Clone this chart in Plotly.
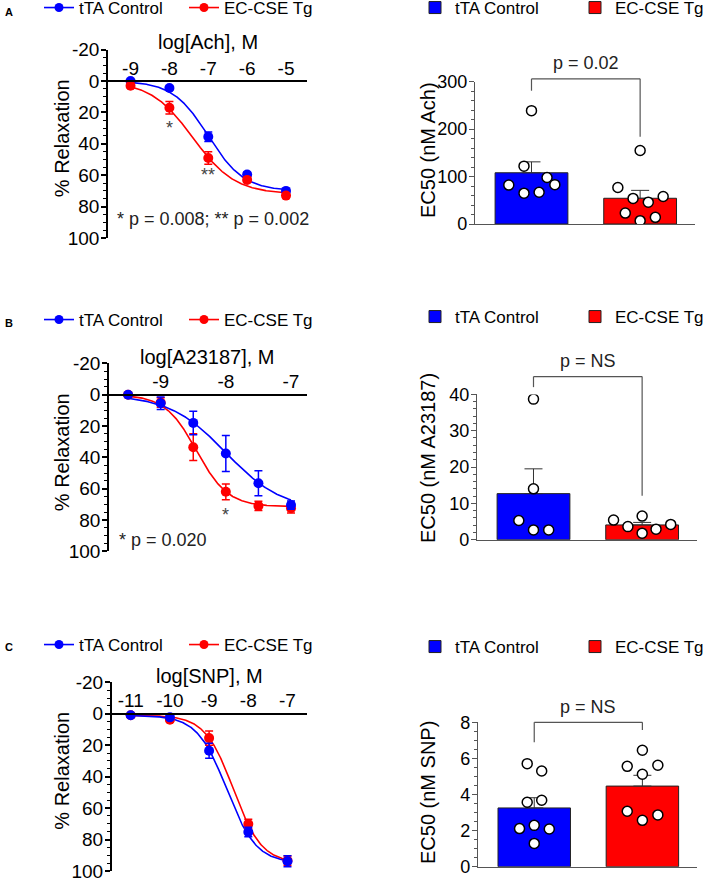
import numpy as np
import plotly.graph_objects as go

W, H = 709, 882
BLUE = "#0000FF"
RED = "#FF0000"
FONT = "Arial, 'Liberation Sans', Helvetica, sans-serif"
GREY = "#555555"

# ---------------- Concentration-response data (mean % relaxation, SEM) ----------------
ach_logM = [-9, -8, -7, -6, -5]
ach_ctrl = [0, 4.5, 35.5, 59.5, 70]
ach_ctrl_sem = [0.5, 1.2, 3, 1.5, 1.5]
ach_cse = [3, 17, 49, 63, 73]
ach_cse_sem = [1.5, 4, 4, 1.5, 1.5]
ach_fit_ctrl = [0, 70, -7.0, 0.95]     # top, bottom, logEC50, Hill slope
ach_fit_cse = [0, 72, -7.4, 0.8]

a23_logM = [-9.5, -9, -8.5, -8, -7.5, -7]
a23_ctrl = [0, 5.5, 18, 37.5, 56.5, 70.5]
a23_ctrl_sem = [0.5, 4, 7.5, 11.5, 8, 2.7]
a23_cse = [0, 5, 33.5, 62, 71, 72.5]
a23_cse_sem = [0.5, 3, 8.5, 5, 3, 3]
a23_fit_ctrl = [0, 74, -8.0, 1.0]
a23_fit_cse = [0, 71.5, -8.45, 1.8]

snp_logM = [-11, -10, -9, -8, -7]
snp_ctrl = [1, 2.3, 23.5, 75.2, 93.8]
snp_ctrl_sem = [1, 1, 4.8, 3, 3.5]
snp_cse = [1, 3.8, 15.5, 70.1, 93.4]
snp_cse_sem = [1, 1.5, 4.5, 3, 3]
snp_fit_ctrl = [1, 95, -8.55, 1.15]
snp_fit_cse = [1, 95, -8.38, 1.2]

# ---------------- EC50 individual values (nM) ----------------
ec50_ach_ctrl = [239, 122, 82, 65, 67, 98, 83]
ec50_ach_cse = [155, 77, 54, 46, 58, 23, 7, 14]
ec50_a23_ctrl = [38.7, 14.0, 5.3, 2.7, 2.7]
ec50_a23_cse = [5.4, 3.6, 6.5, 1.8, 2.9, 4.2]
ec50_snp_ctrl = [5.71, 5.3, 3.57, 3.68, 2.11, 2.29, 2.09, 1.29]
ec50_snp_cse = [6.45, 5.56, 5.62, 5.12, 3.07, 2.57, 2.87]

# horizontal scatter offsets of the dots within each bar (category units)
jit_ach_ctrl = [0, -0.069, -0.209, -0.069, 0.07, 0.143, 0.215]
jit_ach_cse = [0, -0.205, -0.065, 0.075, 0.212, -0.137, 0, 0.14]
jit_a23_ctrl = [0, 0, -0.135, 0, 0.14]
jit_a23_cse = [-0.263, -0.131, 0, 0, 0.128, 0.263]
jit_snp_ctrl = [-0.065, 0.069, -0.065, 0.069, -0.136, 0, 0.139, 0]
jit_snp_cse = [0, -0.14, 0.143, 0, -0.14, 0, 0.143]

groups = ["tTA Control", "EC-CSE Tg"]
y_ticks_resp = [-20, 0, 20, 40, 60, 80, 100]

rows = [
    dict(letter="A", xlabel="log[Ach], M", logM=ach_logM, xticks=[-9, -8, -7, -6, -5],
         ctrl=ach_ctrl, ctrl_sem=ach_ctrl_sem, cse=ach_cse, cse_sem=ach_cse_sem,
         fit_ctrl=ach_fit_ctrl, fit_cse=ach_fit_cse,
         ec_ctrl=ec50_ach_ctrl, ec_cse=ec50_ach_cse, jit_ctrl=jit_ach_ctrl, jit_cse=jit_ach_cse,
         ec_title="EC50 (nM Ach)", ec_max=300, ec_dtick=100, ec_minor=20, ptext="p = 0.02",
         bracket=[281, 306, 184], ptext_y=340,
         # geometry (pixels)
         lx=(108, 307), lxr=(-9.58, -4.46), ly=(49.6, 238), bx=(475, 695), by=(224, 81.7),
         leg_y=8, bleg_y=8, letter_y=12, blue_first=True,
         xtitle_y=41.7, ytitle_y=138.5, btitle_y=150),
    dict(letter="B", xlabel="log[A23187], M", logM=a23_logM, xticks=[-9, -8, -7],
         ctrl=a23_ctrl, ctrl_sem=a23_ctrl_sem, cse=a23_cse, cse_sem=a23_cse_sem,
         fit_ctrl=a23_fit_ctrl, fit_cse=a23_fit_cse,
         ec_ctrl=ec50_a23_ctrl, ec_cse=ec50_a23_cse, jit_ctrl=jit_a23_ctrl, jit_cse=jit_a23_cse,
         ec_title="EC50 (nM A23187)", ec_max=40, ec_dtick=10, ec_minor=2, ptext="p = NS",
         bracket=[42, 44.9, 12.1], ptext_y=49.3,
         lx=(109, 306.7), lxr=(-9.793, -6.759), ly=(363.4, 551.3), bx=(477, 697), by=(539.7, 394.4),
         leg_y=320, bleg_y=317, letter_y=323, blue_first=False,
         xtitle_y=356.7, ytitle_y=452.5, btitle_y=458),
    dict(letter="C", xlabel="log[SNP], M", logM=snp_logM, xticks=[-11, -10, -9, -8, -7],
         ctrl=snp_ctrl, ctrl_sem=snp_ctrl_sem, cse=snp_cse, cse_sem=snp_cse_sem,
         fit_ctrl=snp_fit_ctrl, fit_cse=snp_fit_cse,
         ec_ctrl=ec50_snp_ctrl, ec_cse=ec50_snp_cse, jit_ctrl=jit_snp_ctrl, jit_cse=jit_snp_cse,
         ec_title="EC50 (nM SNP)", ec_max=8, ec_dtick=2, ec_minor=0.5, ptext="p = NS",
         bracket=[6.9, 8.0, 7.58], ptext_y=8.87,
         lx=(111.7, 306.7), lxr=(-11.485, -6.51), ly=(682.3, 871), bx=(478, 697), by=(866.7, 722.3),
         leg_y=645, bleg_y=647, letter_y=647, blue_first=False,
         xtitle_y=676, ytitle_y=771, btitle_y=792),
]

stars = {
    "A": [(-8, 30, "*"), (-7, 60, "**")],
    "B": [(-8, 77, "*")],
    "C": [],
}
pnotes = {
    "A": (0.035, 88, "* p = 0.008; ** p = 0.002"),
    "B": (0.04, 92.8, "* p = 0.020"),
}

BAR_XR = (-0.52, 1.505)
BAR_W = 0.67
LEFT_YTITLE_X = 61.7
BAR_YTITLE_X = 428


def hill(p, x):
    top, bottom, logec, h = p
    return top + (bottom - top) / (1 + 10 ** (h * (logec - x)))


def px_x(p):
    return p / W


def px_y(p):
    return 1 - p / H


fig = go.Figure()
layout = dict(
    width=W, height=H, margin=dict(l=0, r=0, t=0, b=0, autoexpand=False),
    paper_bgcolor="white", plot_bgcolor="white",
    font=dict(family=FONT, size=18, color="black"),
    showlegend=True,
)
annotations = []
shapes = []

for r, row in enumerate(rows):
    li = 2 * r + 1
    bi = 2 * r + 2
    lxa, lya = ("x" if li == 1 else f"x{li}"), ("y" if li == 1 else f"y{li}")
    bxa, bya = f"x{bi}", f"y{bi}"
    lleg = "legend" if r == 0 else f"legend{2 * r + 1}"
    bleg = f"legend{2 * r + 2}"

    # ---- left: concentration-response ----
    xs = np.linspace(row["logM"][0], row["logM"][-1], 300)
    series = [
        (groups[0], BLUE, row["ctrl"], row["ctrl_sem"], row["fit_ctrl"]),
        (groups[1], RED, row["cse"], row["cse_sem"], row["fit_cse"]),
    ]
    if not row["blue_first"]:
        series = series[::-1]
    for name, col, vals, sem, fitp in series:
        fig.add_trace(go.Scatter(x=xs, y=hill(fitp, xs), mode="lines",
                                 line=dict(color=col, width=1.6), showlegend=False,
                                 hoverinfo="skip", xaxis=lxa, yaxis=lya))
    for name, col, vals, sem, fitp in series:
        fig.add_trace(go.Scatter(x=row["logM"], y=vals, mode="markers", name=name,
                                 marker=dict(color=col, size=10),
                                 error_y=dict(type="data", array=sem, color=col, thickness=1.5, width=4),
                                 showlegend=False, xaxis=lxa, yaxis=lya))
    # legend entries
    for name, col in [(groups[0], BLUE), (groups[1], RED)]:
        fig.add_trace(go.Scatter(x=[None], y=[None], mode="lines+markers", name=name,
                                 line=dict(color=col, width=1.6), marker=dict(color=col, size=9),
                                 legend=lleg, xaxis=lxa, yaxis=lya))

    ydom = [px_y(row["ly"][1]), px_y(row["ly"][0])]
    zero_pos = ydom[0] + (100 - 0) / 120 * (ydom[1] - ydom[0])
    layout["xaxis" if li == 1 else f"xaxis{li}"] = dict(
        domain=[px_x(row["lx"][0]), px_x(row["lx"][1])], range=list(row["lxr"]),
        anchor="free", position=zero_pos, side="top",
        showline=True, linecolor="black", linewidth=1.5, ticks="",
        tickmode="array", tickvals=row["xticks"], ticktext=[str(v) for v in row["xticks"]],
        tickfont=dict(size=19), showgrid=False, zeroline=False, ticklabelstandoff=-2,
    )
    layout["yaxis" if li == 1 else f"yaxis{li}"] = dict(
        domain=ydom, range=[100, -20], anchor=lxa,
        showline=True, linecolor="black", linewidth=1.5,
        ticks="outside", ticklen=5, tickwidth=1.5, tickcolor="black",
        tickmode="array", tickvals=y_ticks_resp, ticktext=[str(v) for v in y_ticks_resp],
        minor=dict(tickmode="linear", tick0=0, dtick=5, ticks="outside", ticklen=3,
                   tickwidth=1.2, tickcolor="black"),
        tickfont=dict(size=19), showgrid=False, zeroline=False,
        ticklabeloverflow="allow", ticklabelstandoff=-2,
    )
    layout[lleg] = dict(orientation="h", x=px_x(39), y=px_y(row["leg_y"]),
                        xanchor="left", yanchor="middle", bgcolor="rgba(0,0,0,0)",
                        font=dict(size=17), itemwidth=30, entrywidthmode="pixels", entrywidth=100)

    # axis titles
    annotations.append(dict(x=0.5, y=px_y(row["xtitle_y"]), xref=f"{lxa} domain", yref="paper",
                            text=row["xlabel"], showarrow=False, xanchor="center", yanchor="middle",
                            font=dict(size=20, color="black")))
    annotations.append(dict(x=px_x(LEFT_YTITLE_X), y=px_y(row["ytitle_y"]), xref="paper", yref="paper",
                            text="% Relaxation", textangle=-90, showarrow=False,
                            xanchor="center", yanchor="middle", font=dict(size=20, color="black")))

    for (sx, sy, st) in stars[row["letter"]]:
        annotations.append(dict(x=sx, y=sy, xref=lxa, yref=lya, text=st, showarrow=False,
                                font=dict(size=18, color="#444444")))
    if row["letter"] in pnotes:
        nx, ny, nt = pnotes[row["letter"]]
        annotations.append(dict(x=nx, y=ny, xref=f"{lxa} domain", yref=lya, text=nt,
                                showarrow=False, xanchor="left", yanchor="middle",
                                font=dict(size=18, color="#222222")))
    annotations.append(dict(x=px_x(3), y=px_y(row["letter_y"]), xref="paper", yref="paper",
                            text=f"<b>{row['letter']}</b>", showarrow=False, xanchor="left",
                            yanchor="middle", font=dict(size=11, color="black")))

    # ---- right: EC50 bars ----
    ec_sets = [(groups[0], BLUE, row["ec_ctrl"], row["jit_ctrl"]),
               (groups[1], RED, row["ec_cse"], row["jit_cse"])]
    for i, (name, col, vals, jit) in enumerate(ec_sets):
        v = np.array(vals, dtype=float)
        mean = v.mean()
        sem = v.std(ddof=1) / np.sqrt(len(v))
        fig.add_trace(go.Bar(x=[i], y=[mean], width=BAR_W, name=name,
                             marker=dict(color=col, line=dict(color="#222222", width=1)),
                             error_y=dict(type="data", array=[sem], arrayminus=[0], color="#333333",
                                          thickness=1, width=9),
                             legend=bleg, xaxis=bxa, yaxis=bya))
    for i, (name, col, vals, jit) in enumerate(ec_sets):
        fig.add_trace(go.Scatter(x=[i + j for j in jit], y=vals, mode="markers", name=name,
                                 marker=dict(color="white", size=10, line=dict(color="black", width=1.5)),
                                 showlegend=False, xaxis=bxa, yaxis=bya))

    bydom = [px_y(row["by"][0]), px_y(row["by"][1])]
    layout[f"xaxis{bi}"] = dict(domain=[px_x(row["bx"][0]), px_x(row["bx"][1])], range=list(BAR_XR),
                                anchor=bya, showline=True, linecolor=GREY, linewidth=1.2,
                                ticks="", showticklabels=False, showgrid=False, zeroline=False)
    yt = list(np.arange(0, row["ec_max"] + 1e-9, row["ec_dtick"]))
    layout[f"yaxis{bi}"] = dict(
        domain=bydom, range=[0, row["ec_max"]], anchor=bxa,
        showline=True, linecolor=GREY, linewidth=1.2,
        ticks="outside", ticklen=5, tickwidth=1.2, tickcolor=GREY,
        tickmode="array", tickvals=yt, ticktext=[f"{t:g}" for t in yt],
        minor=dict(tickmode="linear", tick0=0, dtick=row["ec_minor"], ticks="outside", ticklen=3,
                   tickwidth=1, tickcolor=GREY),
        tickfont=dict(size=18), showgrid=False, zeroline=False,
        ticklabeloverflow="allow", ticklabelstandoff=-2,
    )
    annotations.append(dict(x=px_x(BAR_YTITLE_X), y=px_y(row["btitle_y"]), xref="paper", yref="paper",
                            text=row["ec_title"], textangle=-90, showarrow=False,
                            xanchor="center", yanchor="middle", font=dict(size=20, color="black")))
    layout[bleg] = dict(orientation="h", x=px_x(415), y=px_y(row["bleg_y"]),
                        xanchor="left", yanchor="middle", bgcolor="rgba(0,0,0,0)",
                        font=dict(size=17), itemwidth=30, entrywidthmode="pixels", entrywidth=115)

    # significance bracket (drawn in axis-domain units so it may sit above the axis top)
    yl, yh, yr = row["bracket"]
    m = row["ec_max"]
    c0 = (0 - BAR_XR[0]) / (BAR_XR[1] - BAR_XR[0])
    c1 = (1 - BAR_XR[0]) / (BAR_XR[1] - BAR_XR[0])
    for (xa, ya, xb, yb) in [(c0, yl, c0, yh), (c0, yh, c1, yh), (c1, yh, c1, yr)]:
        shapes.append(dict(type="line", xref=f"{bxa} domain", yref=f"{bya} domain",
                           x0=xa, y0=ya / m, x1=xb, y1=yb / m, line=dict(color=GREY, width=1.2)))
    annotations.append(dict(x=0.5 * (c0 + c1), y=row["ptext_y"] / m, xref=f"{bxa} domain",
                            yref=f"{bya} domain", text=row["ptext"],
                            showarrow=False, yanchor="middle", font=dict(size=18, color="#222222")))

layout["annotations"] = annotations
layout["shapes"] = shapes
fig.update_layout(**layout)
fig.write_html("out.html", config={"displayModeBar": False},
               post_script="document.body.style.margin='0px';")
